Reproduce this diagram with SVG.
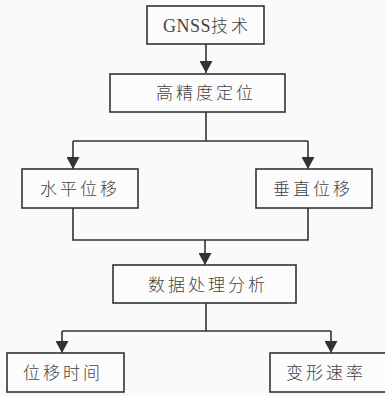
<svg xmlns="http://www.w3.org/2000/svg" width="385" height="396" viewBox="0 0 385 396">
<defs>
<style>
.box{fill:#fcfcfc;stroke:#333;stroke-width:1.6}
.t{font-family:"Noto Sans CJK SC","Liberation Serif",serif;font-size:17px;fill:#444;text-anchor:middle;letter-spacing:3px;font-weight:300}
.lat{font-family:"Liberation Serif","Noto Sans CJK SC",serif;font-size:18px;letter-spacing:0.5px}
.c{fill:none;stroke:#333;stroke-width:1.6}
</style>
<marker id="ah" viewBox="0 0 12 13" refX="12" refY="6.5" markerWidth="12" markerHeight="13" markerUnits="userSpaceOnUse" orient="auto">
<path d="M0,0 L12,6.5 L0,13 Z" fill="#333"/>
</marker>
</defs>
<rect width="385" height="396" fill="#fafafa"/>
<g id="connectors">
<path class="c" d="M206,44 V73" marker-end="url(#ah)"/>
<path class="c" d="M206,112 V141 M73,141 H308"/>
<path class="c" d="M73,141 V169" marker-end="url(#ah)"/>
<path class="c" d="M308,141 V169" marker-end="url(#ah)"/>
<path class="c" d="M73,208 V240 H308 V208"/>
<path class="c" d="M205,240 V265" marker-end="url(#ah)"/>
<path class="c" d="M206,303 V331 M62,331 H331"/>
<path class="c" d="M62,331 V353" marker-end="url(#ah)"/>
<path class="c" d="M331,331 V353" marker-end="url(#ah)"/>
</g>
<g id="n1"><rect class="box" x="147" y="6" width="117" height="38"/><text class="t" x="207" y="32"><tspan class="lat">GNSS</tspan>技术</text></g>
<g id="n2"><rect class="box" x="110" y="74" width="175" height="38"/><text class="t" x="206" y="99">高精度定位</text></g>
<g id="n3"><rect class="box" x="22" y="169" width="116" height="39"/><text class="t" x="80" y="195">水平位移</text></g>
<g id="n4"><rect class="box" x="256" y="169" width="116" height="39"/><text class="t" x="313" y="195">垂直位移</text></g>
<g id="n5"><rect class="box" x="113" y="265" width="183" height="38"/><text class="t" x="208" y="291">数据处理分析</text></g>
<g id="n6"><rect class="box" x="7" y="353" width="117" height="39"/><text class="t" x="63" y="379">位移时间</text></g>
<g id="n7"><rect class="box" x="270" y="353" width="118" height="39"/><text class="t" x="326" y="379">变形速率</text></g>
</svg>
